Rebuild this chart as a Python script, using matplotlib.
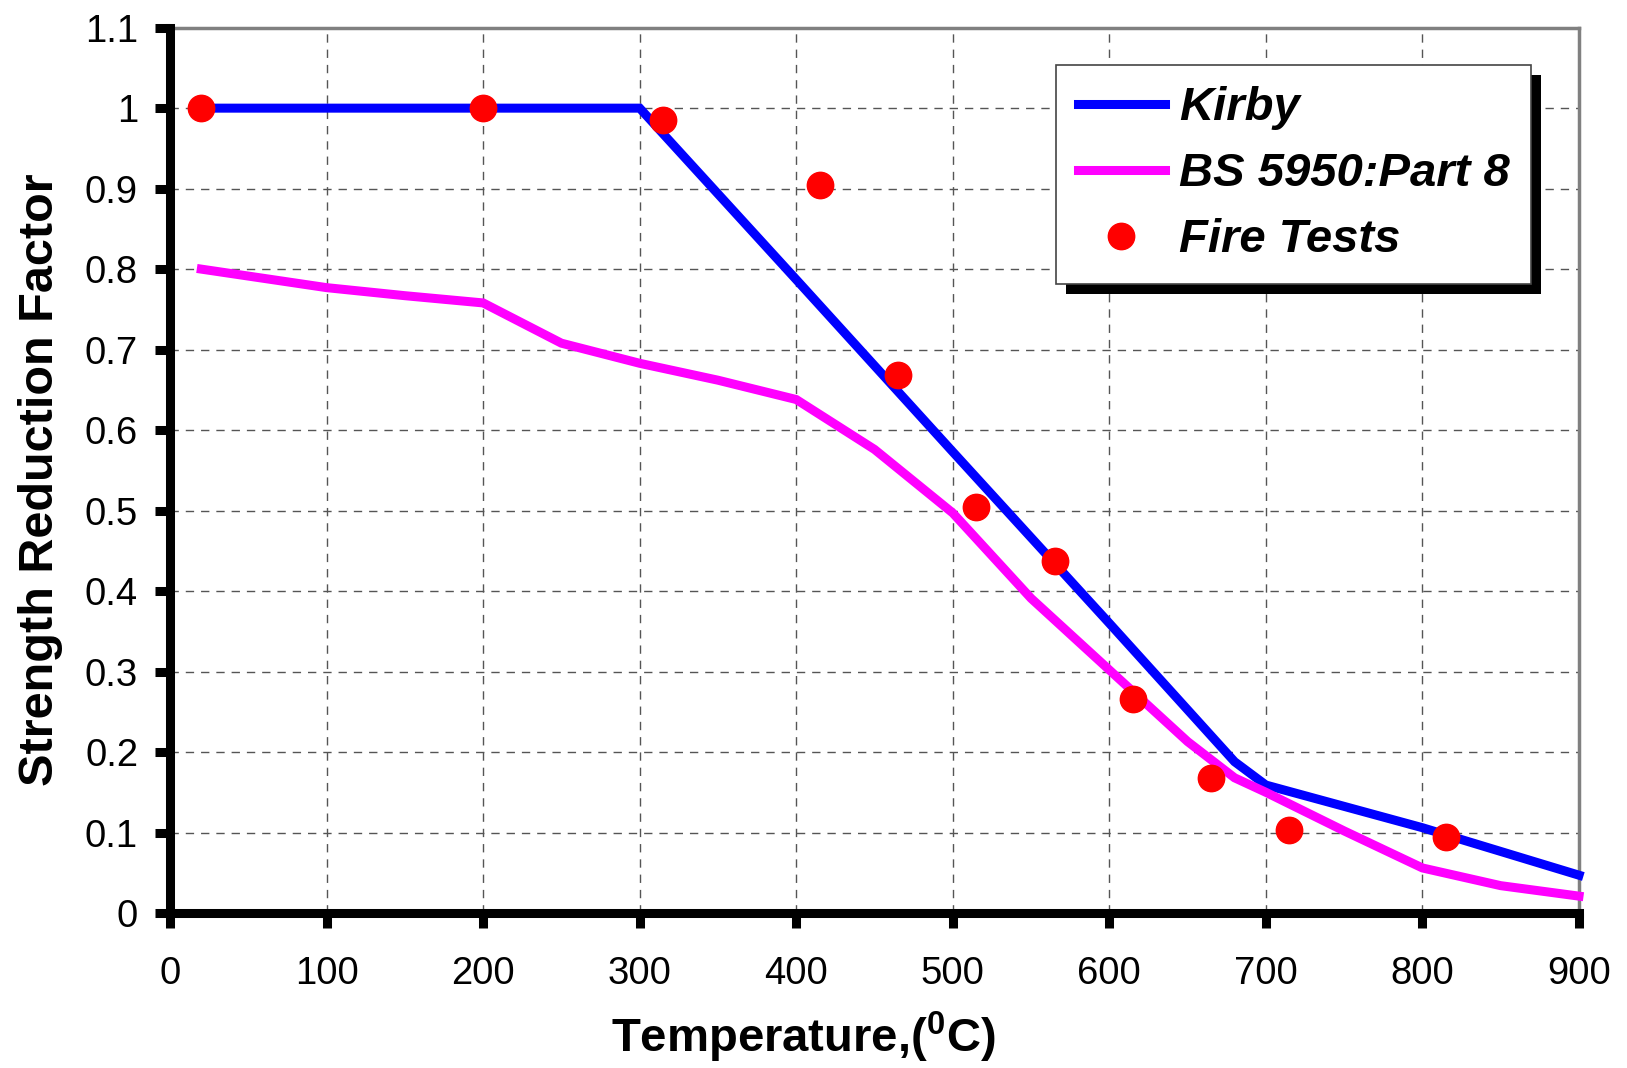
import numpy as np
import matplotlib
matplotlib.use("Agg")
import matplotlib.pyplot as plt
import matplotlib.patches as mpatches

# Data
kirby_temp = [20, 300, 400, 500, 600, 680, 700, 800, 900]
kirby_factor = [1.0, 1.0, 0.787, 0.573, 0.36, 0.188, 0.159, 0.106, 0.047]

bs_temp = [20, 100, 150, 200, 250, 300, 350, 400, 450, 500, 550, 600, 650, 680, 700, 750, 800, 850, 900]
bs_factor = [0.80, 0.777, 0.767, 0.758, 0.708, 0.683, 0.662, 0.638, 0.576, 0.497, 0.391, 0.302, 0.213,
             0.168, 0.150, 0.102, 0.056, 0.034, 0.021]

test_temp = [20, 200, 315, 415, 465, 515, 565, 615, 665, 715, 815]
test_factor = [1.0, 1.0, 0.985, 0.904, 0.669, 0.505, 0.437, 0.266, 0.168, 0.103, 0.094]

x_ticks = [0, 100, 200, 300, 400, 500, 600, 700, 800, 900]
y_ticks = [0, 0.1, 0.2, 0.3, 0.4, 0.5, 0.6, 0.7, 0.8, 0.9, 1.0, 1.1]
y_labels = ["0", "0.1", "0.2", "0.3", "0.4", "0.5", "0.6", "0.7", "0.8", "0.9", "1", "1.1"]

plt.rcParams['font.family'] = ['Liberation Sans', 'DejaVu Sans']
plt.rcParams['mathtext.fontset'] = 'custom'
plt.rcParams['mathtext.rm'] = 'Liberation Sans:bold'
plt.rcParams['mathtext.bf'] = 'Liberation Sans:bold'

fig = plt.figure(figsize=(16.27, 10.68), dpi=100)
ax = fig.add_axes([0.1045, 0.1451, 0.866, 0.829])

# Lines and points
ax.plot(kirby_temp, kirby_factor, color='#0000ff', lw=6.5, label='Kirby', clip_on=False, zorder=3,
        solid_joinstyle='miter')
ax.plot(bs_temp, bs_factor, color='#ff00ff', lw=6.5, label='BS 5950:Part 8', clip_on=False, zorder=3,
        solid_joinstyle='miter')
ax.plot(test_temp, test_factor, 'o', color='#ff0000', ms=19, mec='#ff0000', label='Fire Tests',
        clip_on=False, zorder=4)

ax.set_xlim(0, 900)
ax.set_ylim(0, 1.1)
ax.set_xticks(x_ticks)
ax.set_yticks(y_ticks)
ax.set_yticklabels(y_labels)

# Grid
ax.grid(True, color='#555555', lw=1.0, linestyle=(0, (6, 5)))
ax.set_axisbelow(True)

# Spines
for s in ['left', 'bottom']:
    ax.spines[s].set_linewidth(6.5)
    ax.spines[s].set_color('black')
for s in ['top', 'right']:
    ax.spines[s].set_linewidth(2.5)
    ax.spines[s].set_color('#808080')
ax.spines['left'].set_zorder(5)
ax.spines['bottom'].set_zorder(5)

ax.tick_params(axis='both', direction='out', length=11, width=6.5, color='black', labelsize=27.5)
ax.tick_params(axis='x', pad=20)
ax.tick_params(axis='y', pad=12)

# Labels
fig.text(0.494, 0.029, r'Temperature,($\mathbf{^{0}}$C)', fontsize=34, fontweight='bold',
         ha='center', va='center')
fig.text(0.025, 0.551, 'Strength Reduction Factor', fontsize=35, fontweight='bold',
         rotation=90, ha='center', va='center')

# Legend
leg = ax.legend(loc='upper left', bbox_to_anchor=(0.629, 0.958), borderaxespad=0,
                prop={'size': 34, 'weight': 'bold', 'style': 'italic'},
                fancybox=False, framealpha=1, edgecolor='#444444',
                handlelength=1.85, handletextpad=0.3, labelspacing=0.47, borderpad=0.45)
leg.get_frame().set_linewidth(1.2)
leg.set_zorder(10)

# black drop shadow behind legend
fig.canvas.draw()
bb = leg.get_window_extent()
shadow = mpatches.Rectangle((bb.x0 + 10, bb.y0 - 10), bb.width, bb.height,
                            transform=None, facecolor='black', edgecolor='none', zorder=9)
ax.add_artist(shadow)

fig.savefig("out.png", dpi=100)
